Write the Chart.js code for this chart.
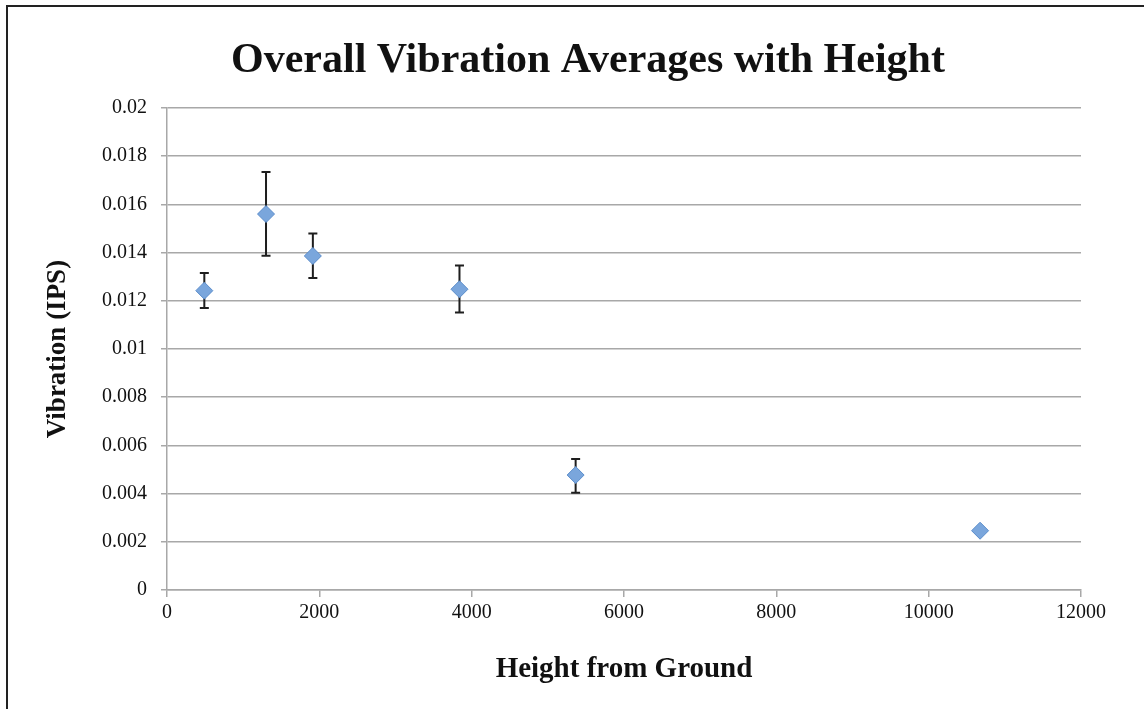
<!DOCTYPE html>
<html>
<head>
<meta charset="utf-8">
<script src="https://cdn.jsdelivr.net/npm/chart.js@4"></script>
<style>
  html, body { margin: 0; padding: 0; background: #fff; }
  #wrap { position: relative; width: 1144px; height: 709px; }
  #frame { position: absolute; left: 6px; top: 5px; right: -10px; bottom: -10px;
           border-left: 2.5px solid #222; border-top: 2.5px solid #222; pointer-events: none; }
  canvas { position: absolute; left: 0; top: 0; }
</style>
</head>
<body>
<div id="wrap">
  <canvas id="c" width="1144" height="709"></canvas>
  <div id="frame"></div>
</div>
<script>
// Data
const heights = [490, 1300, 1915, 3840, 5365, 10675];
const vibration = [0.01242, 0.01560, 0.01386, 0.01248, 0.00477, 0.00246];
const errPlus = [0.00073, 0.00174, 0.00093, 0.00098, 0.00067, 0.00008];
const errMinus = [0.00072, 0.00173, 0.00091, 0.00097, 0.00073, 0.00008];
const yTickValues = [0, 0.002, 0.004, 0.006, 0.008, 0.01, 0.012, 0.014, 0.016, 0.018, 0.02];
const yTickLabels = ['0', '0.002', '0.004', '0.006', '0.008', '0.01', '0.012', '0.014', '0.016', '0.018', '0.02'];
const xTickLabels = ['0', '2000', '4000', '6000', '8000', '10000', '12000'];

const chartTitle = 'Overall Vibration Averages with Height';
const xTitle = 'Height from Ground';
const yTitle = 'Vibration (IPS)';

const points = heights.map((h, i) => ({ x: h, y: vibration[i] }));

const serif = "'Liberation Serif', 'DejaVu Serif', serif";

const errorBars = {
  id: 'errorBars',
  beforeDatasetsDraw(chart) {
    const ctx = chart.ctx;
    const xs = chart.scales.x, ys = chart.scales.y;
    ctx.save();
    ctx.strokeStyle = '#1e1e1e';
    ctx.lineWidth = 2;
    heights.forEach((h, i) => {
      const px = xs.getPixelForValue(h);
      const top = ys.getPixelForValue(vibration[i] + errPlus[i]);
      const bot = ys.getPixelForValue(vibration[i] - errMinus[i]);
      ctx.beginPath();
      ctx.moveTo(px, top); ctx.lineTo(px, bot);
      if (bot - top > 6) {
        ctx.moveTo(px - 4.5, top); ctx.lineTo(px + 4.5, top);
        ctx.moveTo(px - 4.5, bot); ctx.lineTo(px + 4.5, bot);
      }
      ctx.stroke();
    });
    ctx.restore();
  }
};

const titlePlugin = {
  id: 'mainTitle',
  afterDraw(chart) {
    const ctx = chart.ctx;
    ctx.save();
    ctx.fillStyle = '#111';
    ctx.font = "bold 42px " + serif;
    ctx.textAlign = 'center';
    ctx.textBaseline = 'middle';
    ctx.fillText(chartTitle, 588, 61);
    ctx.restore();
  }
};

new Chart(document.getElementById('c'), {
  type: 'scatter',
  data: {
    datasets: [{
      data: points,
      pointStyle: 'rectRot',
      pointRadius: 8.5,
      pointHoverRadius: 8.5,
      backgroundColor: '#7aa6dc',
      borderColor: '#5b8dcb',
      borderWidth: 1
    }]
  },
  options: {
    responsive: false,
    animation: false,
    events: [],
    layout: { padding: { left: 20, right: 63, top: 108, bottom: 10 } },
    plugins: {
      legend: { display: false },
      tooltip: { enabled: false },
      title: { display: false }
    },
    scales: {
      x: {
        type: 'linear',
        min: 0, max: 12000,
        afterBuildTicks(scale) {
          scale.ticks = xTickLabels.map(v => ({ value: Number(v) }));
        },
        afterFit(scale) { scale.height = 709 - 590 - 10; },
        ticks: {
          callback: (v, i) => xTickLabels[i],
          color: '#111',
          font: { family: serif, size: 20 },
          padding: 4,
          maxRotation: 0
        },
        grid: {
          drawOnChartArea: false,
          drawTicks: true,
          tickLength: 7,
          color: '#a8a8a8',
          lineWidth: 1.5
        },
        border: { display: true, color: '#a8a8a8', width: 1.5 },
        title: {
          display: true,
          text: xTitle,
          color: '#111',
          font: { family: serif, size: 29, weight: 'bold', lineHeight: 1.2 },
          padding: { top: 0, bottom: 11.6 }
        }
      },
      y: {
        type: 'linear',
        min: 0, max: 0.02,
        afterBuildTicks(scale) {
          scale.ticks = yTickValues.map(v => ({ value: v }));
        },
        afterFit(scale) { scale.width = 167 - 20; },
        ticks: {
          callback: (v, i) => yTickLabels[i],
          color: '#111',
          font: { family: serif, size: 20 },
          padding: 14
        },
        grid: {
          drawOnChartArea: true,
          drawTicks: true,
          tickLength: 6,
          color: '#a8a8a8',
          lineWidth: 1.5
        },
        border: { display: true, color: '#a8a8a8', width: 1.5 },
        title: {
          display: true,
          text: yTitle,
          color: '#111',
          font: { family: serif, size: 27, weight: 'bold', lineHeight: 1.2 },
          padding: { top: 21.8, bottom: 0 }
        }
      }
    }
  },
  plugins: [errorBars, titlePlugin]
});
</script>
</body>
</html>
